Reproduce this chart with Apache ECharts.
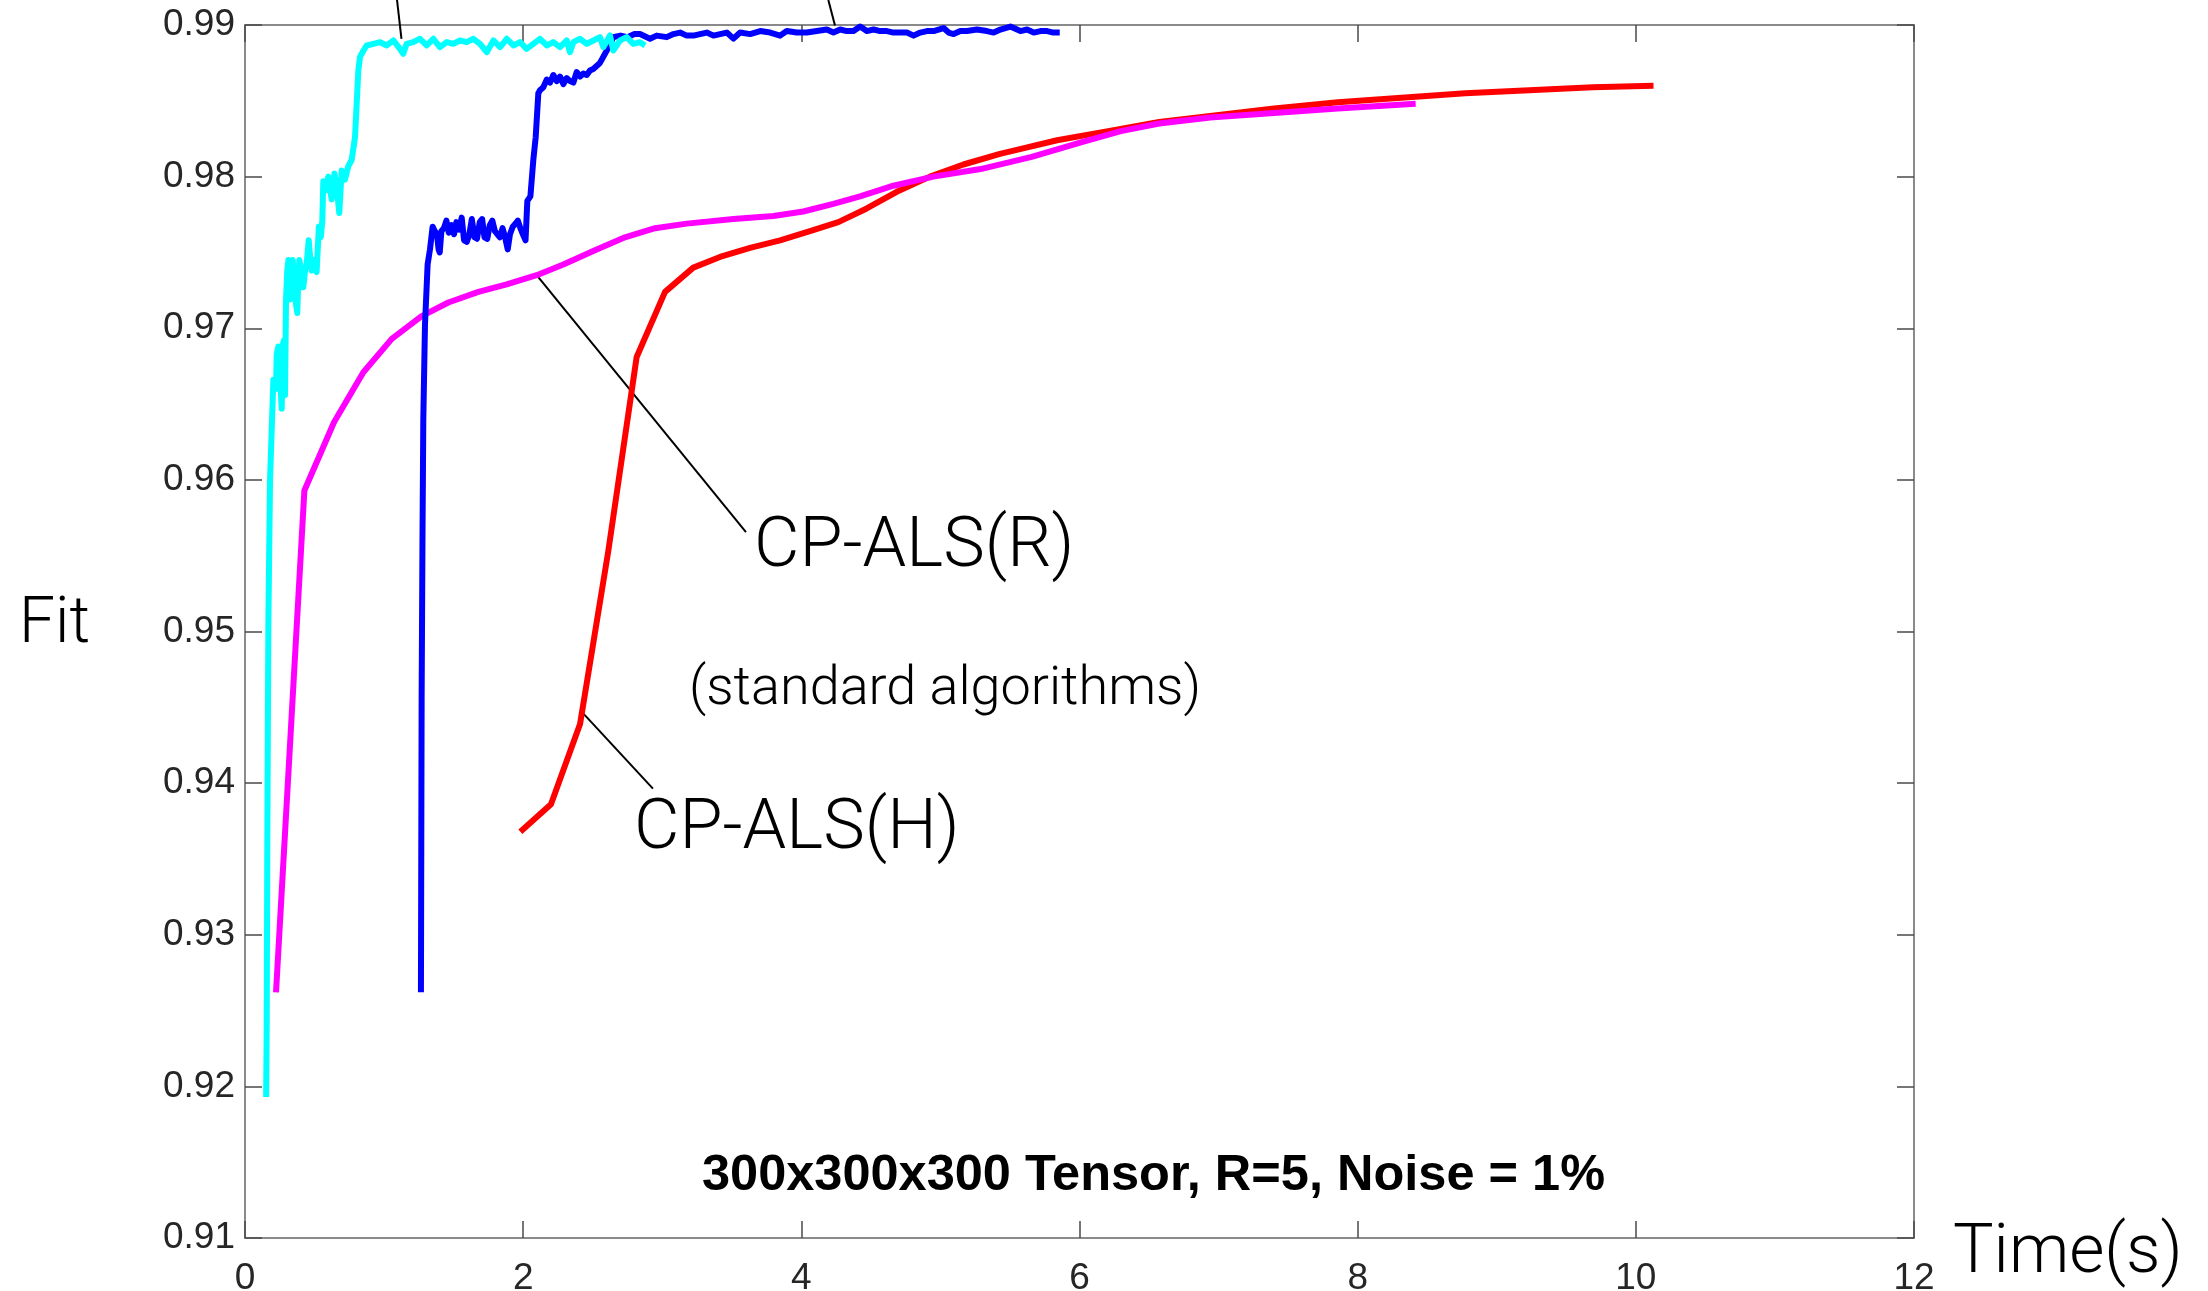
<!DOCTYPE html>
<html>
<head>
<meta charset="utf-8">
<script src="https://cdn.jsdelivr.net/npm/echarts@6/dist/echarts.min.js"></script>
<style>
html,body{margin:0;padding:0;background:#fff;}
#chart{width:2208px;height:1291px;}
</style>
</head>
<body>
<div id="chart"></div>
<script>
// ---------- data ----------
const xAxisMin = 0, xAxisMax = 12, xAxisStep = 2;
const yAxisMin = 0.91, yAxisMax = 0.99, yAxisStep = 0.01;

// cyan: fast noisy method
const cyanFit = [
  [0.152,0.9193],[0.156,0.9237],[0.160,0.9350],[0.168,0.9506],[0.180,0.9600],[0.192,0.9633],
  [0.204,0.9666],[0.215,0.9667],[0.223,0.9660],[0.228,0.9683],[0.240,0.9688],[0.247,0.9686],
  [0.256,0.9660],[0.264,0.9647],[0.271,0.9689],[0.280,0.9692],[0.288,0.9656],[0.295,0.9719],
  [0.304,0.9738],[0.312,0.9745],[0.318,0.9722],[0.324,0.9719],[0.333,0.9740],[0.343,0.9745],
  [0.352,0.9732],[0.360,0.9720],[0.376,0.9710],[0.384,0.9735],[0.391,0.9745],[0.405,0.9738],
  [0.419,0.9727],[0.432,0.9738],[0.443,0.9742],[0.458,0.9758],[0.470,0.9745],[0.479,0.9738],
  [0.495,0.9745],[0.515,0.9737],[0.531,0.9767],[0.545,0.9760],[0.556,0.9771],[0.563,0.9797],
  [0.583,0.9791],[0.599,0.9800],[0.623,0.9785],[0.643,0.9802],[0.659,0.9793],[0.678,0.9776],
  [0.695,0.9804],[0.719,0.9798],[0.743,0.9807],[0.767,0.9811],[0.791,0.9826],[0.803,0.9848],
  [0.815,0.9870],[0.827,0.9879],[0.851,0.9883],[0.875,0.98865],[0.923,0.98876],[0.971,0.98887],
  [1.019,0.98865],[1.067,0.98898],[1.114,0.98843],[1.138,0.98810],[1.162,0.98876],[1.210,0.98887],
  [1.258,0.98909],[1.306,0.98865],[1.354,0.98909],[1.402,0.98854],[1.450,0.98887],[1.498,0.98876],
  [1.546,0.98898],[1.594,0.98887],[1.642,0.98909],[1.690,0.98876],[1.738,0.98821],[1.786,0.98898],
  [1.834,0.98854],[1.882,0.98909],[1.930,0.98865],[1.978,0.98887],[2.025,0.98843],[2.073,0.98876],
  [2.121,0.98909],[2.169,0.98865],[2.217,0.98887],[2.265,0.98854],[2.313,0.98898],[2.337,0.98821],
  [2.361,0.98887],[2.409,0.98909],[2.457,0.98876],[2.505,0.98898],[2.552,0.98920],[2.576,0.98854],
  [2.624,0.98931],[2.648,0.98832],[2.696,0.98898],[2.744,0.98920],[2.792,0.98876],[2.840,0.98887],
  [2.876,0.98865]
];

// blue: second noisy method
const blueFit = [
  [1.265,0.9262],[1.270,0.9456],[1.276,0.9560],[1.282,0.9640],[1.294,0.9702],[1.313,0.9742],
  [1.330,0.9752],[1.349,0.9767],[1.365,0.9764],[1.380,0.9762],[1.392,0.9752],[1.400,0.9750],
  [1.412,0.9764],[1.430,0.9766],[1.448,0.9771],[1.465,0.9763],[1.485,0.9768],[1.503,0.9762],
  [1.520,0.9770],[1.540,0.9765],[1.558,0.9773],[1.575,0.9758],[1.595,0.9757],[1.613,0.9762],
  [1.631,0.9772],[1.650,0.9760],[1.668,0.9759],[1.688,0.9770],[1.705,0.9772],[1.722,0.9760],
  [1.742,0.9759],[1.760,0.9768],[1.778,0.9771],[1.797,0.9764],[1.815,0.9762],[1.833,0.9760],
  [1.852,0.9766],[1.870,0.9760],[1.889,0.9752],[1.905,0.9762],[1.925,0.9767],[1.945,0.9769],
  [1.962,0.9771],[1.980,0.9766],[1.998,0.9762],[2.017,0.9758],[2.030,0.9784],[2.052,0.9787],
  [2.073,0.9811],[2.090,0.9826],[2.109,0.9855],[2.121,0.9857],[2.145,0.9859],[2.169,0.9864],
  [2.193,0.9862],[2.217,0.9867],[2.241,0.9863],[2.265,0.9866],[2.289,0.9861],[2.313,0.9865],
  [2.337,0.9863],[2.361,0.9862],[2.385,0.9869],[2.409,0.9866],[2.433,0.9868],[2.457,0.9867],
  [2.480,0.9870],[2.504,0.9871],[2.528,0.9873],[2.552,0.9875],[2.576,0.9879],[2.600,0.9883],
  [2.624,0.9887],[2.648,0.9892],[2.700,0.9893],[2.750,0.9892],[2.800,0.9894],[2.840,0.9894],
  [2.912,0.9891],[2.960,0.9893],[3.032,0.9892],[3.080,0.9894],[3.128,0.9895],[3.176,0.9893],
  [3.224,0.9893],[3.272,0.9894],[3.320,0.9895],[3.368,0.9893],[3.416,0.9894],[3.464,0.9895],
  [3.512,0.9891],[3.560,0.9895],[3.632,0.9894],[3.704,0.9896],[3.776,0.9895],[3.847,0.9893],
  [3.895,0.9896],[3.967,0.9895],[4.039,0.9895],[4.111,0.9896],[4.183,0.9897],[4.231,0.9895],
  [4.279,0.9897],[4.327,0.9896],[4.375,0.9896],[4.423,0.9899],[4.471,0.9896],[4.519,0.9897],
  [4.567,0.9896],[4.615,0.9896],[4.663,0.9895],[4.711,0.9895],[4.759,0.9895],[4.807,0.9893],
  [4.855,0.9895],[4.903,0.9896],[4.951,0.9896],[5.023,0.9898],[5.059,0.9895],[5.095,0.9894],
  [5.143,0.9896],[5.191,0.9896],[5.263,0.9897],[5.335,0.9896],[5.383,0.9895],[5.431,0.9897],
  [5.503,0.9899],[5.575,0.9896],[5.623,0.9897],[5.671,0.9895],[5.719,0.9896],[5.767,0.9896],
  [5.812,0.9895],[5.858,0.9895]
];

// magenta: CP-ALS(R)
const magentaFit = [
  [0.223,0.9262],[0.427,0.9593],[0.640,0.9638],[0.851,0.9671],[1.055,0.9693],[1.270,0.9708],
  [1.462,0.9717],[1.678,0.9724],[1.881,0.9729],[2.097,0.9735],[2.289,0.9742],[2.504,0.9751],
  [2.732,0.9760],[2.948,0.9766],[3.176,0.9769],[3.511,0.9772],[3.799,0.9774],[4.014,0.9777],
  [4.230,0.9782],[4.422,0.9787],[4.662,0.9794],[4.949,0.9800],[5.289,0.9805],[5.656,0.9813],
  [6.023,0.9823],[6.298,0.9830],[6.573,0.9835],[6.940,0.9839],[7.399,0.9842],[7.857,0.9845],
  [8.417,0.9848]
];

// red: CP-ALS(H)
const redFit = [
  [1.980,0.9368],[2.200,0.9386],[2.409,0.9439],[2.612,0.9553],[2.816,0.9681],[3.020,0.9724],
  [3.223,0.9740],[3.415,0.9747],[3.631,0.9753],[3.847,0.9758],[4.062,0.9764],[4.266,0.9770],
  [4.470,0.9779],[4.686,0.9790],[4.925,0.9800],[5.165,0.9808],[5.428,0.9815],[5.564,0.9818],
  [5.839,0.9824],[6.206,0.9830],[6.573,0.9836],[6.940,0.9840],[7.399,0.9845],[7.857,0.9849],
  [8.315,0.9852],[8.774,0.9855],[9.233,0.9857],[9.691,0.9859],[10.127,0.9860]
];

// annotation leader lines (data coordinates)
const leaderR = [[2.097,0.97351],[3.602,0.95655]];
const leaderH = [[2.435,0.94457],[2.933,0.93964]];
const leaderTopLeft = [[1.125,0.98909],[1.093,0.99165]];
const leaderTopRight = [[4.242,0.98997],[4.194,0.99165]];

// texts
const yAxisName = 'Fit';
const xAxisName = 'Time(s)';
const labelR = 'CP-ALS(R)';
const labelH = 'CP-ALS(H)';
const labelStd = '(standard algorithms)';
const titleText = '300x300x300 Tensor, R=5, Noise = 1%';

// ---------- chart ----------
const chart = echarts.init(document.getElementById('chart'), null, {renderer:'canvas'});
const axisLineColor = '#8a8a8a';
const tickColor = '#4a4a4a';
const tickFont = 'Liberation Sans';
const lightFont = 'Roboto';

function axisCommon(showLabel, isY) {
  return {
    type: 'value',
    axisLine: {show:true, onZero:false, lineStyle:{color:axisLineColor, width:2}},
    axisTick: {show:true, inside:true, length:17, lineStyle:{color:tickColor, width:1.5}},
    splitLine: {show:false},
    axisLabel: {
      show: showLabel, fontSize: 37, color:'#262626', fontFamily: tickFont,
      margin: isY ? 10 : 22,
      formatter: isY ? (v => v.toFixed(2)) : (v => String(Math.round(v)))
    }
  };
}

function lineSeries(name, data, color, width, z) {
  return {
    name, type:'line', data, showSymbol:false, symbol:'none',
    lineStyle:{color, width, join:'round', cap:'butt'},
    itemStyle:{color}, z, silent:true, animation:false
  };
}
function leader(data) {
  return {
    type:'line', data, showSymbol:false, symbol:'none', clip:false,
    lineStyle:{color:'#000', width:2}, z:1, silent:true, animation:false
  };
}

const option = {
  animation:false,
  backgroundColor:'#fff',
  grid:{left:245, top:25, right:294, bottom:53, containLabel:false, outerBoundsMode:'none'},
  xAxis:[
    Object.assign(axisCommon(true,false), {min:xAxisMin, max:xAxisMax, interval:xAxisStep, position:'bottom'}),
    Object.assign(axisCommon(false,false), {min:xAxisMin, max:xAxisMax, interval:xAxisStep, position:'top'})
  ],
  yAxis:[
    Object.assign(axisCommon(true,true), {min:yAxisMin, max:yAxisMax, interval:yAxisStep, position:'left'}),
    Object.assign(axisCommon(false,true), {min:yAxisMin, max:yAxisMax, interval:yAxisStep, position:'right'})
  ],
  series:[
    leader(leaderR), leader(leaderH), leader(leaderTopLeft), leader(leaderTopRight),
    lineSeries('CP-ALS(H)', redFit, '#ff0000', 6, 2),
    lineSeries('CP-ALS(R)', magentaFit, '#ff00ff', 6, 3),
    lineSeries('blue', blueFit, '#0000ff', 6, 4),
    lineSeries('cyan', cyanFit, '#00ffff', 6, 5)
  ],
  graphic:[
    {type:'text', left:19, top:594, style:{text:yAxisName, font:'300 64px '+lightFont, fill:'#000'}},
    {type:'text', left:1953, top:1221, style:{text:xAxisName, font:'300 68px '+lightFont, fill:'#000'}},
    {type:'text', left:754, top:513, style:{text:labelR, font:'300 70px '+lightFont, fill:'#000'}},
    {type:'text', left:689, top:663, style:{text:labelStd, font:'300 54px '+lightFont, fill:'#000'}},
    {type:'text', left:634, top:795, style:{text:labelH, font:'300 70px '+lightFont, fill:'#000'}},
    {type:'text', left:702, top:1151, style:{text:titleText, font:'bold 50.5px Liberation Sans', fill:'#000'}}
  ]
};
chart.setOption(option);
</script>
</body>
</html>
